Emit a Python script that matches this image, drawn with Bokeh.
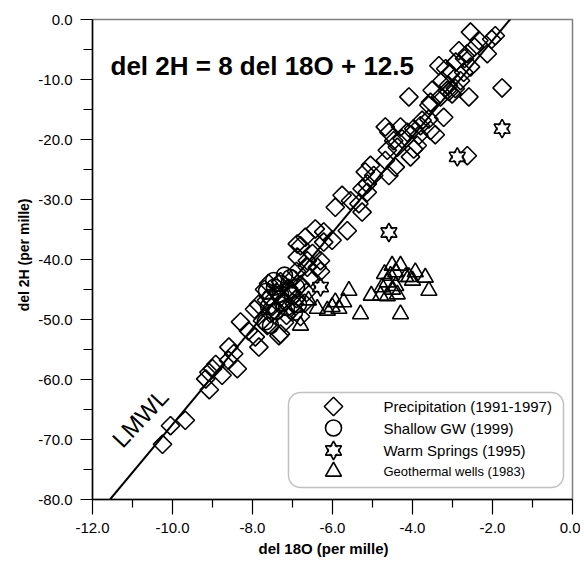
from bokeh.plotting import figure
from bokeh.models import FixedTicker, PrintfTickFormatter, Label, BoxAnnotation, Range1d, Title
from bokeh.embed import file_html
from bokeh.resources import INLINE

# ---------------- data ----------------
precip_x = [-10.25, -10.05, -9.68, -9.08, -9.17, -9.09, -9.0, -8.92, -8.76, -8.38, -8.59, -8.47, -8.6,
            -8.3, -8.1, -7.93, -7.84, -7.34, -7.63, -7.3, -7.75,
            -7.85, -7.65, -7.5, -7.4, -7.3, -7.2, -7.1, -7.0, -6.9, -7.3, -7.0, -6.8, -6.7, -7.55, -7.0,
            -6.8, -7.2, -6.65, -7.95, -7.7, -7.45, -7.15, -6.95, -7.6,
            -6.88, -6.5, -6.3, -6.38, -6.63, -6.22, -6.01, -6.8, -6.88, -6.63, -6.3, -6.55, -6.9,
            -6.68, -6.43, -6.22, -5.63, -5.93, -5.76, -5.26, -5.55, -5.34, -5.13, -5.26, -5.13, -5.05,
            -4.97, -5.18, -4.59, -4.43, -4.68, -4.63, -4.68, -4.59, -4.47, -4.38, -4.3, -4.26, -4.13,
            -4.05, -3.88, -3.97, -3.84, -3.97, -3.8, -3.76, -3.59, -3.55, -3.22, -3.43,
            -4.09, -3.51, -3.55, -3.3, -3.13, -3.01, -3.59, -3.26, -3.1, -2.8, -3.09, -2.59, -2.93,
            -3.34, -3.17, -2.92, -2.72, -2.55, -2.84, -2.63, -2.55, -2.34, -2.13, -1.93, -2.02, -2.45,
            -1.76, -2.63, -2.7, -3.05]
precip_y = [-70.8, -67.7, -66.8, -61.7, -59.9, -58.8, -58.2, -57.5, -59.3, -58.2, -54.6, -55.7, -56.8,
            -50.4, -51.9, -52.9, -54.6, -52.7, -51.0, -52.4, -50.2,
            -47.5, -46.8, -47.8, -45.5, -46.3, -47.0, -44.8, -45.6, -46.5, -43.7, -43.2, -44.2, -47.3, -49.0, -48.3,
            -49.5, -50.5, -45.5, -48.3, -45.0, -48.5, -49.3, -47.4, -44.0,
            -37.4, -39.0, -40.2, -41.3, -41.3, -37.1, -36.8, -37.7, -39.6, -40.2, -42.0, -43.0, -42.0,
            -36.3, -34.9, -35.4, -35.2, -31.3, -29.3, -32.1, -30.2, -30.7, -28.8, -28.2, -27.4, -24.3,
            -26.0, -25.4, -26.0, -24.6, -23.5, -21.8, -17.9, -18.8, -20.2, -21.3, -17.9, -19.9, -18.8,
            -22.9, -21.0, -21.6, -19.3, -18.2, -17.7, -16.8, -16.6, -18.5, -16.3, -19.2,
            -12.9, -11.8, -13.8, -12.9, -11.8, -12.4, -14.3, -10.2, -11.0, -10.2, -12.0, -12.9, -11.5,
            -7.7, -8.2, -7.1, -8.8, -7.9, -5.2, -5.7, -2.1, -3.5, -5.7, -2.7, -3.3, -4.6,
            -11.4, -22.7, -6.5, -9.0]

gw_x = [-7.47, -7.3, -7.45, -7.1, -7.3, -7.55, -7.0, -7.25, -6.9, -7.6, -7.4, -7.15, -7.55, -7.68,
        -6.85, -7.65, -7.05, -6.95, -7.2]
gw_y = [-43.5, -44.0, -44.6, -45.3, -45.8, -46.3, -46.0, -47.2, -44.6, -47.8, -48.6, -48.0, -51.0, -50.4,
        -47.5, -45.3, -43.0, -48.8, -42.6]

spring_x = [-1.76, -2.88, -4.59, -6.3]
spring_y = [-18.2, -22.9, -35.5, -44.6]

geo_x = [-5.59, -5.93, -5.72, -6.01, -5.84, -6.38, -6.8, -5.3, -5.03, -4.8, -4.51, -4.3, -4.42, -4.55,
         -4.63, -4.76, -4.42, -4.38, -4.63, -4.17, -4.09, -3.93, -4.0, -3.68, -3.59, -4.3, -6.13, -6.6,
         -4.7, -4.5]
geo_y = [-45.2, -47.1, -47.1, -47.9, -48.2, -48.2, -51.0, -49.1, -46.0, -46.0, -41.0, -41.0, -42.1, -42.7,
         -43.8, -44.6, -44.4, -45.8, -46.1, -42.9, -42.9, -42.1, -43.5, -43.0, -45.2, -49.1, -48.5, -46.8,
         -42.4, -45.0]

lmwl_x = [-11.5625, -1.55]
lmwl_slope, lmwl_intercept = 8.0, 12.5
lmwl_y = [lmwl_slope * v + lmwl_intercept for v in lmwl_x]

x_major = [-12, -10, -8, -6, -4, -2, 0]
x_minor = [-11, -9, -7, -5, -3, -1]
y_major = [0, -10, -20, -30, -40, -50, -60, -70, -80]
y_minor = [-5, -15, -25, -35, -45, -55, -65, -75]

legend_labels = ["Precipitation (1991-1997)", "Shallow GW (1999)", "Warm Springs (1995)",
                 "Geothermal wells (1983)"]
equation_text = "del 2H = 8 del 18O + 12.5"
x_title = "del 18O (per mille)"
y_title = "del 2H (per mille)"

# ---------------- layout helpers ----------------
X_MIN, X_MAX, Y_MIN, Y_MAX = -12, 0, -80, 0
FW, FH = 480, 480
BL, BT, BR, BB = 92, 19, 8, 64
def dx(px):
    return X_MIN + (px - BL) * (X_MAX - X_MIN) / FW
def dy(py):
    return Y_MAX - (py - BT) * (Y_MAX - Y_MIN) / FH

FONT = "Liberation Sans"
LW = 1.6

p = figure(frame_width=FW, frame_height=FH, x_range=Range1d(X_MIN, X_MAX), y_range=Range1d(Y_MIN, Y_MAX),
           output_backend="svg", toolbar_location=None,
           min_border_left=BL, min_border_top=BT, min_border_right=BR, min_border_bottom=BB)
p.xgrid.visible = False
p.ygrid.visible = False
p.outline_line_color = "#808080"
p.outline_line_width = 1.5
p.background_fill_color = "white"

for ax in (p.xaxis[0], p.yaxis[0]):
    ax.axis_line_color = "black"
    ax.axis_line_width = 1.5
    ax.major_tick_line_color = "black"
    ax.minor_tick_line_color = "black"
    ax.major_tick_line_width = 1.2
    ax.minor_tick_line_width = 1.2
    ax.major_tick_in = 0
    ax.minor_tick_in = 0
    ax.formatter = PrintfTickFormatter(format="%.1f")
    ax.major_label_text_font = FONT
    ax.major_label_text_font_size = "15px"
    ax.major_label_text_color = "black"

p.xaxis.ticker = FixedTicker(ticks=x_major, minor_ticks=x_minor)
p.yaxis.ticker = FixedTicker(ticks=y_major, minor_ticks=y_minor)
p.xaxis.major_tick_out = 15
p.xaxis.minor_tick_out = 8
p.yaxis.major_tick_out = 12
p.yaxis.minor_tick_out = 9
p.xaxis.major_label_standoff = 8
p.yaxis.major_label_standoff = 8

# axis titles placed as side titles
p.add_layout(Title(text=x_title, align="left", offset=166, standoff=4, text_font=FONT,
                   text_font_size="15px", text_font_style="bold", text_color="black"), "below")
p.add_layout(Title(text=y_title, align="right", offset=179, standoff=8, text_font=FONT,
                   text_font_size="14px", text_font_style="bold", text_color="black"), "left")

# LMWL line
p.line(lmwl_x, lmwl_y, line_color="black", line_width=2)

# data markers
def stars(x, y, size):
    p.scatter(x, y, marker="triangle", size=size, fill_color=None, line_color="black", line_width=LW)
    p.scatter(x, y, marker="inverted_triangle", size=size, fill_color=None, line_color="black", line_width=LW)
    p.scatter(x, y, marker="triangle", size=size - 4.5, fill_color="white", line_color=None)
    p.scatter(x, y, marker="inverted_triangle", size=size - 4.5, fill_color="white", line_color=None)

p.scatter(precip_x, precip_y, marker="square", angle=0.785398, size=13, fill_color=None,
          line_color="black", line_width=LW)
p.scatter(gw_x, gw_y, marker="circle", size=16, fill_color=None, line_color="black", line_width=LW)
p.scatter(geo_x, geo_y, marker="triangle", size=16, fill_color=None, line_color="black", line_width=LW)
stars(spring_x, spring_y, 16)

# legend (manual)
box = BoxAnnotation(left=dx(288), right=dx(563), top=dy(392), bottom=dy(487), border_radius=12,
                    fill_color="white", fill_alpha=1, line_color="#333333", line_width=1.5, level="underlay")
p.add_layout(box)
key_x = dx(333)
rows = [dy(406), dy(427.5), dy(450), dy(471)]
p.scatter([key_x], [rows[0]], marker="square", angle=0.785398, size=13, fill_color=None,
          line_color="black", line_width=LW)
p.scatter([key_x], [rows[1]], marker="circle", size=16, fill_color=None, line_color="black", line_width=LW)
stars([key_x], [rows[2]], 16)
p.scatter([key_x], [rows[3]], marker="triangle", size=16, fill_color=None, line_color="black", line_width=LW)
sizes = ["15px", "15px", "15px", "13px"]
for lab, yy, fs in zip(legend_labels, rows, sizes):
    p.add_layout(Label(x=dx(383), y=yy, text=lab, text_font=FONT, text_font_size=fs,
                       text_baseline="middle", text_align="left", text_color="black"))

p.add_layout(Label(x=dx(110), y=dy(65.5), text=equation_text, text_font=FONT, text_font_size="26px",
                   text_font_style="bold", text_baseline="alphabetic", text_color="black"))
p.add_layout(Label(x=dx(116), y=dy(443), text="LMWL", text_font=FONT, text_font_size="24px",
                   angle=47, angle_units="deg", text_baseline="alphabetic", text_color="black"))

open("out.html", "w").write(file_html(p, INLINE))
